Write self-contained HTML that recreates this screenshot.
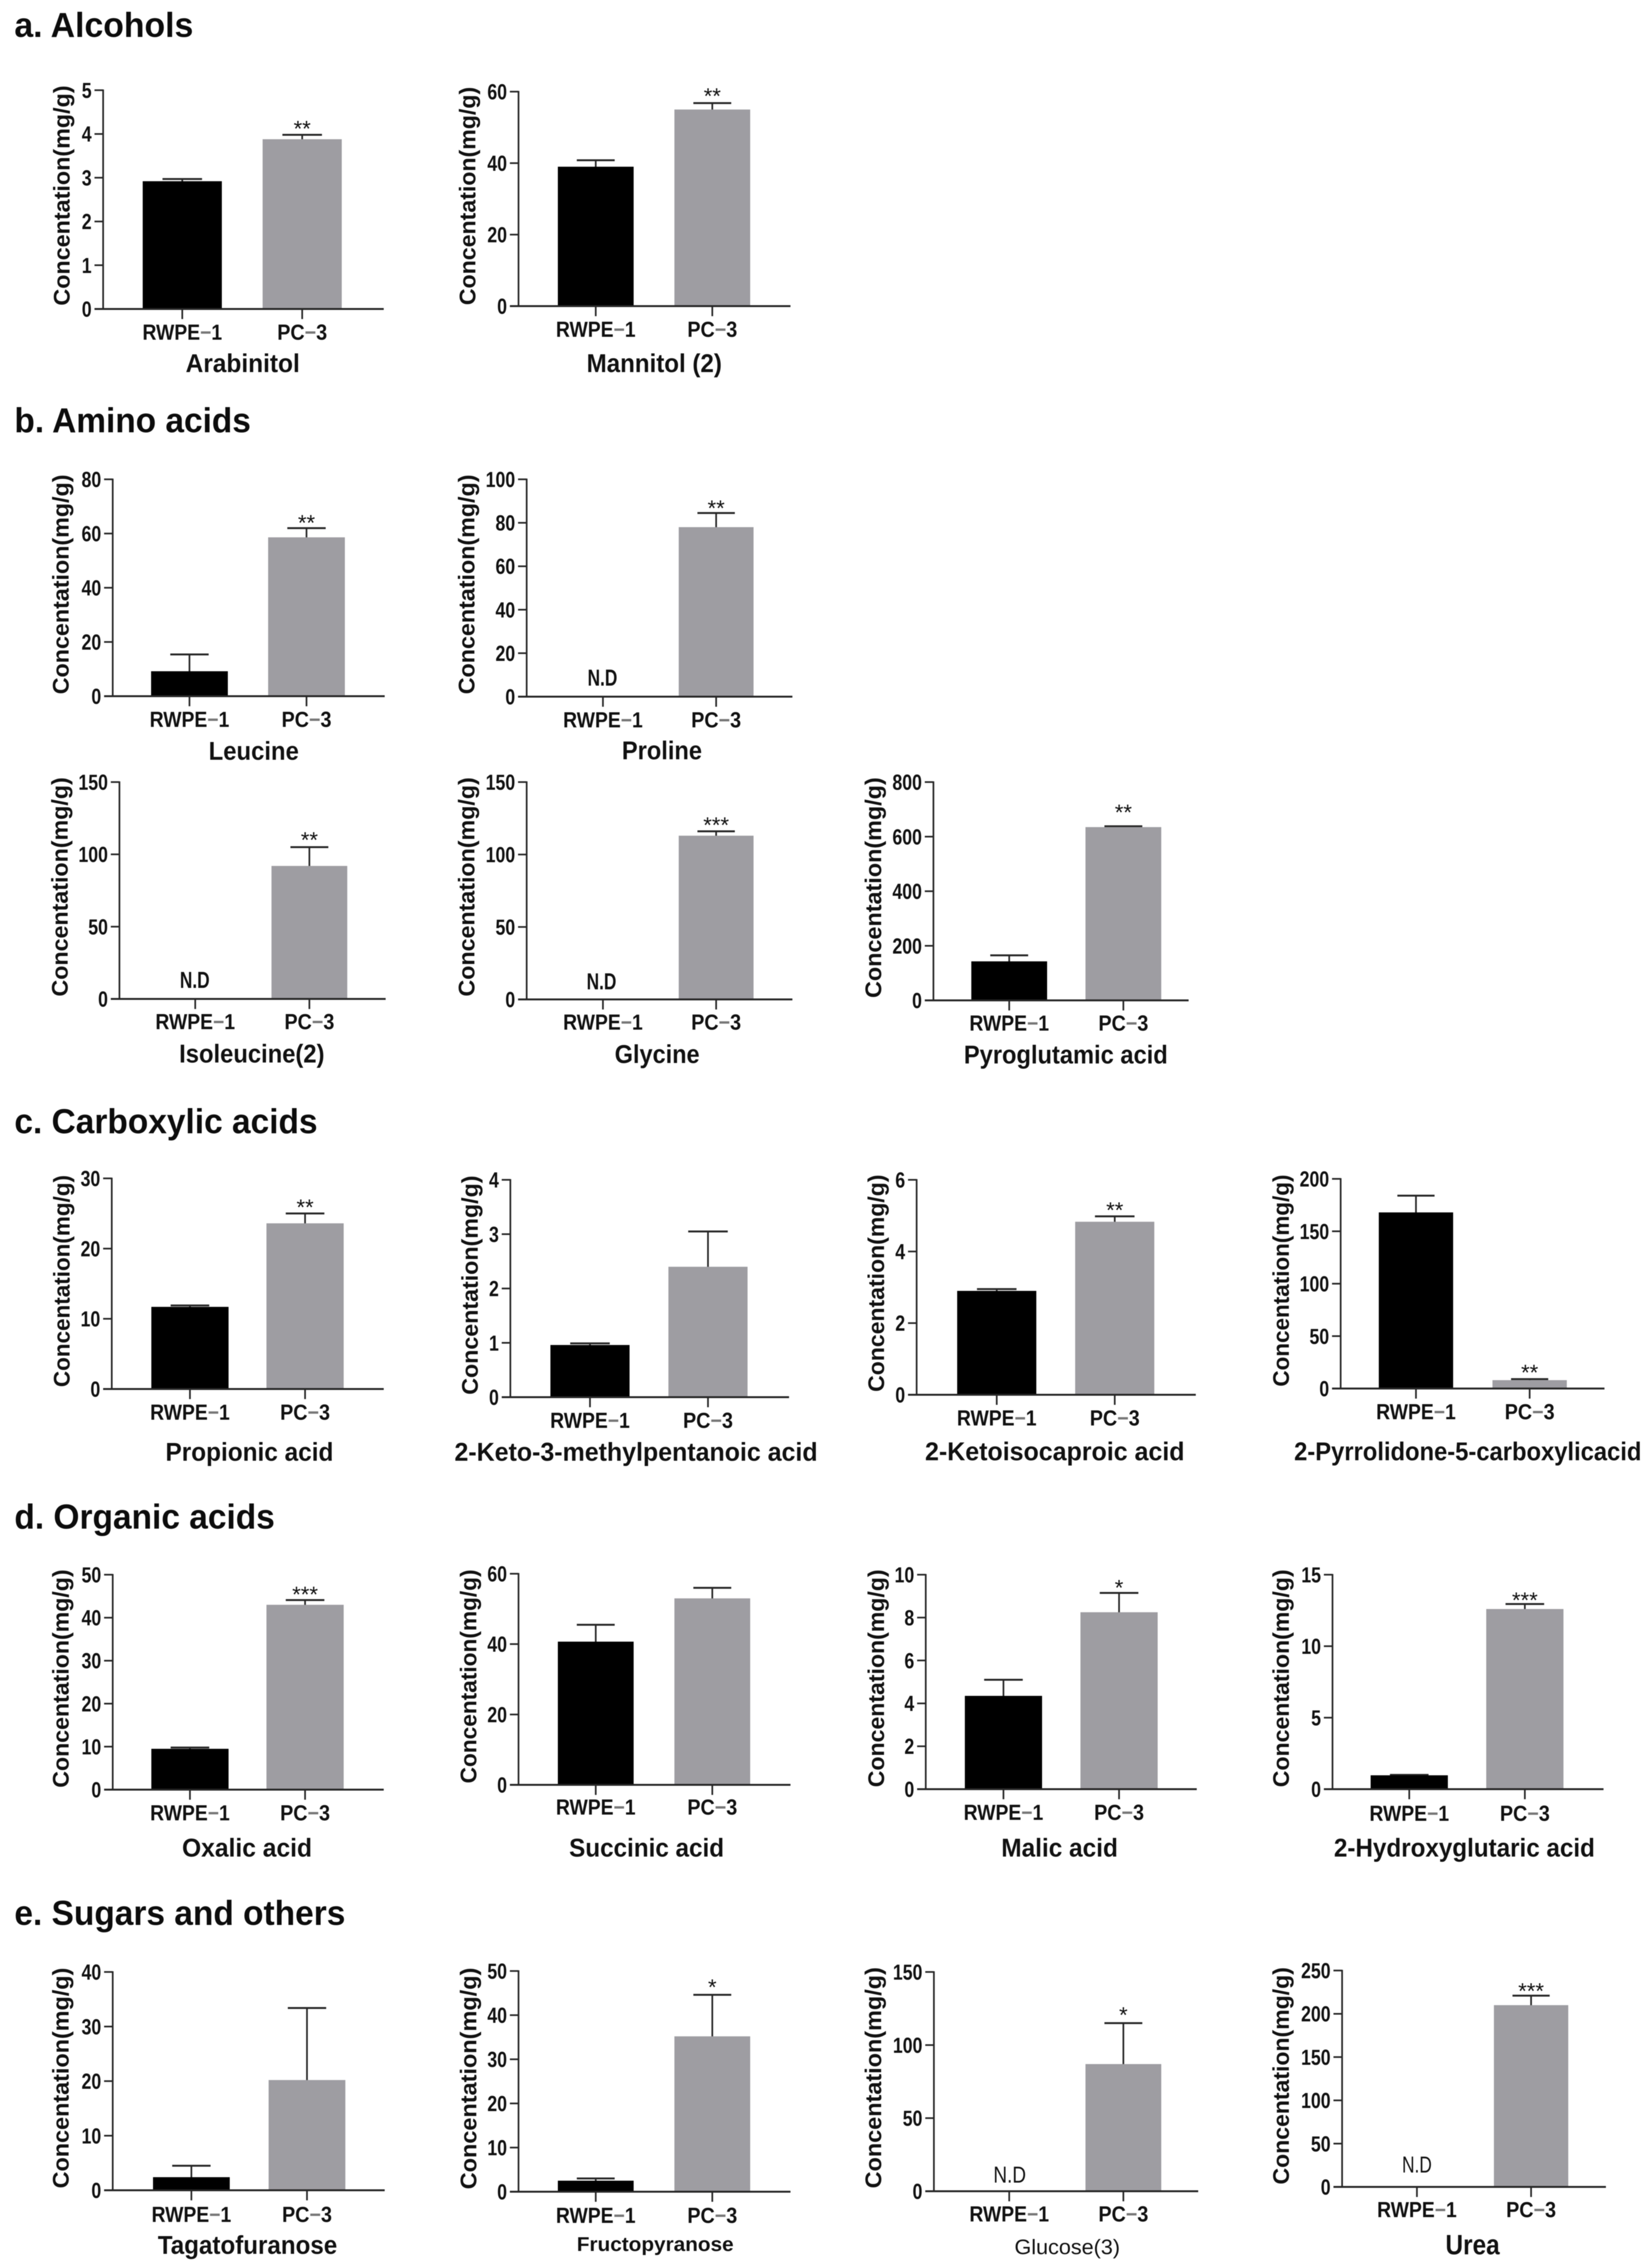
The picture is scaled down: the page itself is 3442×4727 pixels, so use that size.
<!DOCTYPE html>
<html lang="en">
<head>
<meta charset="utf-8">
<title>Metabolite concentrations in RWPE-1 and PC-3 cells</title>
<style>
html,body{margin:0;padding:0;background:#fff;}
body{width:3442px;height:4727px;overflow:hidden;}
svg{display:block;filter:blur(0.9px);}
text{font-family:"Liberation Sans",Arial,sans-serif;fill:#111;}
.heading{font-size:72px;font-weight:700;fill:#0c0c0c;}
</style>
</head>
<body>
<svg id="figure" xmlns="http://www.w3.org/2000/svg" width="3442" height="4727" viewBox="0 0 3442 4727">
  <rect x="0" y="0" width="3442" height="4727" fill="#ffffff"/>
  <text class="heading" x="30" y="77" textLength="373" lengthAdjust="spacingAndGlyphs">a. Alcohols</text>
  <text class="heading" x="30" y="901" textLength="493" lengthAdjust="spacingAndGlyphs">b. Amino acids</text>
  <text class="heading" x="30" y="2362" textLength="632" lengthAdjust="spacingAndGlyphs">c. Carboxylic acids</text>
  <text class="heading" x="30" y="3186" textLength="543" lengthAdjust="spacingAndGlyphs">d. Organic acids</text>
  <text class="heading" x="30" y="4012" textLength="690" lengthAdjust="spacingAndGlyphs">e. Sugars and others</text>
</svg>
<script>
// ---- chart data ----
const categories = ['RWPE', 'PC'];
const categorySuffixes = ['1', '3'];
const yAxisTitle = 'Concentation(mg/g)';
const notDetectedLabel = 'N.D';
const panelNames = ['Arabinitol', 'Mannitol (2)', 'Leucine', 'Proline', 'Isoleucine(2)', 'Glycine', 'Pyroglutamic acid', 'Propionic acid', '2-Keto-3-methylpentanoic acid', '2-Ketoisocaproic acid', '2-Pyrrolidone-5-carboxylicacid', 'Oxalic acid', 'Succinic acid', 'Malic acid', '2-Hydroxyglutaric acid', 'Tagatofuranose', 'Fructopyranose', 'Glucose(3)', 'Urea'];
const rwpeMeans = [2.92, 39, 9.2, null, null, null, 143, 11.7, 0.96, 2.9, 168, 9.5, 40.7, 4.35, 0.97, 2.4, 2.5, null, null];
const rwpeUpper = [2.97, 40.8, 15.4, null, null, null, 165, 11.9, 0.99, 2.95, 184, 9.8, 45.5, 5.1, 1.0, 4.5, 3, null, null];
const pc3Means = [3.88, 55, 58.6, 78, 92, 113, 635, 23.6, 2.4, 4.83, 8, 43, 53, 8.25, 12.6, 20.2, 35.2, 87, 210];
const pc3Upper = [3.98, 56.8, 62, 84.5, 105, 116, 638, 25, 3.05, 4.98, 9, 44.1, 56, 9.15, 12.95, 33.4, 44.6, 115, 221];
const significance = ['**', '**', '**', '**', '**', '***', '**', '**', '', '**', '**', '***', '', '*', '***', '', '*', '*', '***'];
const yTickLabels = [
  [0, 1, 2, 3, 4, 5],
  [0, 20, 40, 60],
  [0, 20, 40, 60, 80],
  [0, 20, 40, 60, 80, 100],
  [0, 50, 100, 150],
  [0, 50, 100, 150],
  [0, 200, 400, 600, 800],
  [0, 10, 20, 30],
  [0, 1, 2, 3, 4],
  [0, 2, 4, 6],
  [0, 50, 100, 150, 200],
  [0, 10, 20, 30, 40, 50],
  [0, 20, 40, 60],
  [0, 2, 4, 6, 8, 10],
  [0, 5, 10, 15],
  [0, 10, 20, 30, 40],
  [0, 10, 20, 30, 40, 50],
  [0, 50, 100, 150],
  [0, 50, 100, 150, 200, 250]
];

// ---- page geometry, separate from the data ----
const panelBoxes = [
  {ax:215,xe:800,top:188,zero:644,c1:380,c2:630,w:165,labelY:692,titleX:506,titleY:757,titleW:238,ytX:130,ytA:178,ytB:637,starGap:22},
  {ax:1081,xe:1648,top:191,zero:638,c1:1242,c2:1485,w:158,labelY:686,titleX:1364,titleY:757,titleW:282,ytX:976,ytA:181,ytB:636,starGap:24},
  {ax:235,xe:802,top:999,zero:1451,c1:395,c2:639,w:160,labelY:1499,titleX:529,titleY:1565,titleW:188,ytX:128,ytA:989,ytB:1447,starGap:20},
  {ax:1098,xe:1652,top:999,zero:1452,c1:1257,c2:1493,w:156,labelY:1500,titleX:1380,titleY:1564,titleW:167,ytX:974,ytA:989,ytB:1447,starGap:19,ndX:1256,ndY:1412,ndW:62},
  {ax:249,xe:804,top:1630,zero:2082,c1:407,c2:645,w:158,labelY:2129,titleX:525,titleY:2196,titleW:303,ytX:126,ytA:1620,ytB:2077,starGap:24,ndX:406,ndY:2042,ndW:62},
  {ax:1098,xe:1652,top:1630,zero:2083,c1:1257,c2:1493,w:156,labelY:2130,titleX:1370,titleY:2197,titleW:177,ytX:974,ytA:1620,ytB:2077,starGap:22,ndX:1254,ndY:2045,ndW:62},
  {ax:1946,xe:2478,top:1630,zero:2085,c1:2104,c2:2342,w:158,labelY:2132,titleX:2222,titleY:2198,titleW:425,ytX:1822,ytA:1620,ytB:2080,starGap:38},
  {ax:233,xe:800,top:2456,zero:2895,c1:396,c2:636,w:161,labelY:2943,titleX:520,titleY:3026,titleW:350,ytX:130,ytA:2449,ytB:2891,starGap:22},
  {ax:1064,xe:1645,top:2459,zero:2912,c1:1230,c2:1476,w:165,labelY:2960,titleX:1326,titleY:3026,titleW:757,ytX:981,ytA:2450,ytB:2907,starGap:22},
  {ax:1911,xe:2493,top:2459,zero:2907,c1:2078,c2:2324,w:165,labelY:2955,titleX:2199,titleY:3025,titleW:541,ytX:1828,ytA:2448,ytB:2901,starGap:22},
  {ax:2795,xe:3345,top:2457,zero:2894,c1:2952,c2:3189,w:155,labelY:2942,titleX:3060,titleY:3025,titleW:724,ytX:2672,ytA:2448,ytB:2890,starGap:23},
  {ax:235,xe:800,top:3282,zero:3730,c1:396,c2:636,w:161,labelY:3778,titleX:515,titleY:3851,titleW:271,ytX:128,ytA:3271,ytB:3726,starGap:21},
  {ax:1081,xe:1648,top:3280,zero:3720,c1:1242,c2:1485,w:158,labelY:3766,titleX:1348,titleY:3851,titleW:323,ytX:978,ytA:3271,ytB:3717,starGap:20},
  {ax:1930,xe:2495,top:3282,zero:3729,c1:2092,c2:2333,w:161,labelY:3777,titleX:2209,titleY:3851,titleW:243,ytX:1828,ytA:3271,ytB:3725,starGap:20},
  {ax:2778,xe:3343,top:3282,zero:3729,c1:2938,c2:3179,w:161,labelY:3779,titleX:3053,titleY:3851,titleW:544,ytX:2672,ytA:3271,ytB:3725,starGap:17},
  {ax:235,xe:802,top:4110,zero:4565,c1:399,c2:640,w:160,labelY:4615,titleX:516,titleY:4679,titleW:374,ytX:128,ytA:4101,ytB:4561,starGap:20},
  {ax:1081,xe:1648,top:4108,zero:4568,c1:1242,c2:1485,w:158,labelY:4617,titleX:1366,titleY:4677,titleW:327,ytX:978,ytA:4101,ytB:4563,starGap:25,titleSize:42},
  {ax:1947,xe:2498,top:4110,zero:4567,c1:2104,c2:2342,w:158,labelY:4614,titleX:2225,titleY:4683,titleW:220,ytX:1822,ytA:4100,ytB:4561,starGap:26,titleSize:44,titleWeight:400,ndX:2105,ndY:4532,ndW:68,ndWeight:400,starFill:'#666'},
  {ax:2798,xe:3348,top:4107,zero:4558,c1:2954,c2:3192,w:155,labelY:4605,titleX:3070,titleY:4679,titleW:113,ytX:2672,ytA:4100,ytB:4553,starGap:19,titleSize:58,ndX:2954,ndY:4511,ndW:62,ndWeight:400,starFill:'#666'}
];

const NS = 'http://www.w3.org/2000/svg';
const figure = document.getElementById('figure');
const INK = '#262626';

function make(tag, attrs, parent, content) {
  const node = document.createElementNS(NS, tag);
  for (const key of Object.keys(attrs)) node.setAttribute(key, attrs[key]);
  if (content !== undefined) node.textContent = content;
  parent.appendChild(node);
  return node;
}
function line(parent, x1, y1, x2, y2, width) {
  return make('line', {x1: x1, y1: y1, x2: x2, y2: y2, stroke: INK, 'stroke-width': width}, parent);
}

function drawPanel(i) {
  const box = panelBoxes[i];
  const ticks = yTickLabels[i];
  const yMax = ticks[ticks.length - 1];
  const yScale = function (v) { return box.zero - (v / yMax) * (box.zero - box.top); };

  const panel = make('g', {}, figure);
  
  

  // bars
  const xCenters = [box.c1, box.c2];
  const means = [rwpeMeans[i], pc3Means[i]];
  const uppers = [rwpeUpper[i], pc3Upper[i]];
  const fills = ['#000000', '#9e9da2'];
  categories.forEach(function (cat, k) {
    if (means[k] === null) return;
    const yBar = yScale(means[k]);
    const yErr = yScale(uppers[k]);
    const stem = line(panel, xCenters[k], yBar + 2, xCenters[k], yErr, 3.5);
    
    
    const cap = line(panel, xCenters[k] - box.w / 4, yErr, xCenters[k] + box.w / 4, yErr, 4);
    
    
    const bar = make('rect', {x: xCenters[k] - box.w / 2, y: yBar, width: box.w, height: box.zero - yBar, fill: fills[k]}, panel);
    
    
  });

  // axes
  const yAxis = line(panel, box.ax, box.top - 1.5, box.ax, box.zero + 1.5, 3.5);
  
  
  const xAxis = line(panel, box.ax - 18, box.zero, box.xe, box.zero, 4);
  
  

  // y ticks and labels
  ticks.forEach(function (t) {
    const y = yScale(t);
    const tick = line(panel, box.ax - 18, y, box.ax, y, 3.5);
    
    
    const s = String(t);
    const label = make('text', {x: box.ax - 24, y: y + 16, 'text-anchor': 'end', 'font-size': 45, 'font-weight': 700, textLength: s.length * 20.5, lengthAdjust: 'spacingAndGlyphs'}, panel, s);
    
    
  });

  // x ticks and category labels
  categories.forEach(function (cat, k) {
    const tick = line(panel, xCenters[k], box.zero, xCenters[k], box.zero + 21, 3.5);
    
    
    const label = make('text', {x: xCenters[k], y: box.labelY + 16, 'text-anchor': 'middle', 'font-size': 45, 'font-weight': 700, textLength: k === 0 ? 166 : 104, lengthAdjust: 'spacingAndGlyphs'}, panel);
    
    
    make('tspan', {}, label, cat);
    make('tspan', {style: 'fill:#777'}, label, '\u2212');
    make('tspan', {}, label, categorySuffixes[k]);
  });

  // y-axis title
  const yMid = (box.ytA + box.ytB) / 2;
  const yTitle = make('text', {x: 0, y: 0, transform: 'translate(' + (box.ytX + 15) + ' ' + yMid + ') rotate(-90)', 'text-anchor': 'middle', 'font-size': 47, 'font-weight': 700, fill: '#1a1a1a', textLength: box.ytB - box.ytA, lengthAdjust: 'spacingAndGlyphs'}, panel, yAxisTitle);
  
  

  // panel (metabolite) title
  const titleSize = box.titleSize || 54;
  const title = make('text', {x: box.titleX, y: box.titleY + titleSize * 0.34, 'text-anchor': 'middle', 'font-size': titleSize, 'font-weight': box.titleWeight || 700, textLength: box.titleW, lengthAdjust: 'spacingAndGlyphs'}, panel, panelNames[i]);
  
  

  // not-detected label
  if (rwpeMeans[i] === null) {
    const nd = make('text', {x: box.ndX, y: box.ndY + 17, 'text-anchor': 'middle', 'font-size': 48, 'font-weight': box.ndWeight || 700, textLength: box.ndW, lengthAdjust: 'spacingAndGlyphs'}, panel, notDetectedLabel);
    
    
  }

  // significance stars
  if (significance[i]) {
    const star = make('text', {x: box.c2, y: yScale(pc3Upper[i]) - box.starGap + 25, 'text-anchor': 'middle', 'font-size': 46, fill: box.starFill || '#222'}, panel, significance[i]);
    
    
  }
}

panelNames.forEach(function (_, i) { drawPanel(i); });
</script>
</body>
</html>
